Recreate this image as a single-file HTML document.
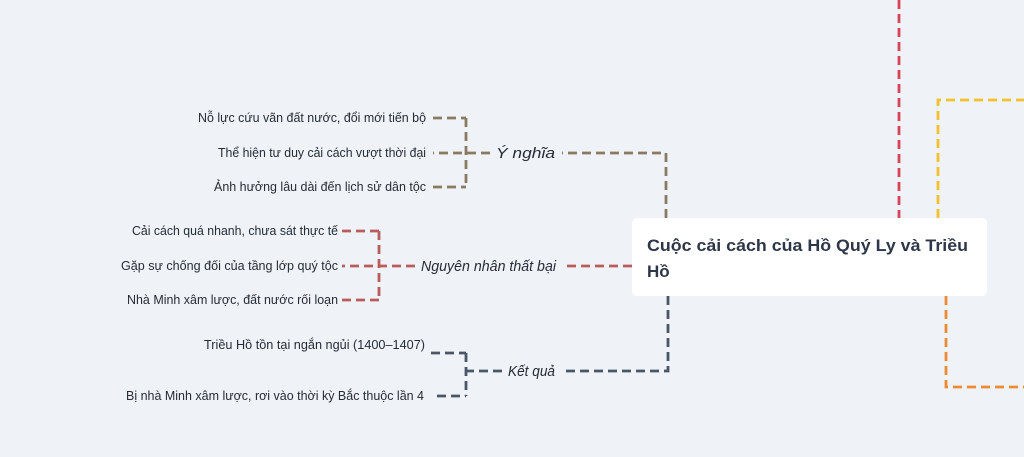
<!DOCTYPE html>
<html><head><meta charset="utf-8"><style>
html,body{margin:0;padding:0;background:#eff3f7;}
svg{display:block;font-family:"Liberation Sans",sans-serif;}
.t{font-size:12.5px;fill:#262c35;}
.l{font-size:14.5px;font-style:italic;fill:#262c35;}
</style></head><body>
<svg width="1024" height="457" viewBox="0 0 1024 457">
<g fill="none" stroke-width="2.8" stroke-dasharray="9,5">
<path d="M899 0V218" stroke="#d64557"/>
<path d="M938 218V100H1024" stroke="#f4c02e"/>
<path d="M946 296V387H1024" stroke="#ec8a35"/>
<path d="M666 218V153H562" stroke="#8a7a62"/>
<path d="M490 153H433M466 118V187M433 118H466M433 187H466" stroke="#8a7a62"/>
<path d="M632 266H564" stroke="#b85c5c"/>
<path d="M415 266H342M379 231V300M342 231H379M342 300H379" stroke="#b85c5c"/>
<path d="M668 296V371H562" stroke="#4a5566"/>
<path d="M502 371H466M466 353V396M431 353H466M437 396H466" stroke="#4a5566"/>
</g>
<rect x="632" y="218" width="355" height="78" rx="5" fill="#fff"/>
<text x="647" y="251" font-size="17" font-weight="bold" fill="#2d3748" textLength="321" lengthAdjust="spacingAndGlyphs">Cuộc cải cách của Hồ Quý Ly và Triều</text>
<text x="647" y="277" font-size="17" font-weight="bold" fill="#2d3748">Hồ</text>
<g class="t" text-anchor="end">
<text x="426" y="122" textLength="228" lengthAdjust="spacingAndGlyphs">Nỗ lực cứu vãn đất nước, đổi mới tiến bộ</text>
<text x="426" y="157" textLength="208" lengthAdjust="spacingAndGlyphs">Thể hiện tư duy cải cách vượt thời đại</text>
<text x="426" y="191" textLength="212" lengthAdjust="spacingAndGlyphs">Ảnh hưởng lâu dài đến lịch sử dân tộc</text>
<text x="338" y="235" textLength="206" lengthAdjust="spacingAndGlyphs">Cải cách quá nhanh, chưa sát thực tế</text>
<text x="338" y="270" textLength="217" lengthAdjust="spacingAndGlyphs">Gặp sự chống đối của tầng lớp quý tộc</text>
<text x="338" y="304" textLength="211" lengthAdjust="spacingAndGlyphs">Nhà Minh xâm lược, đất nước rối loạn</text>
<text x="425" y="349" textLength="221" lengthAdjust="spacingAndGlyphs">Triều Hồ tồn tại ngắn ngủi (1400–1407)</text>
<text x="424" y="400" textLength="298" lengthAdjust="spacingAndGlyphs">Bị nhà Minh xâm lược, rơi vào thời kỳ Bắc thuộc lần 4</text>
</g>
<g class="l">
<text x="496" y="158" textLength="59" lengthAdjust="spacingAndGlyphs">Ý nghĩa</text>
<text x="421" y="271" textLength="135" lengthAdjust="spacingAndGlyphs">Nguyên nhân thất bại</text>
<text x="508" y="376" textLength="47" lengthAdjust="spacingAndGlyphs">Kết quả</text>
</g>
</svg>
</body></html>
